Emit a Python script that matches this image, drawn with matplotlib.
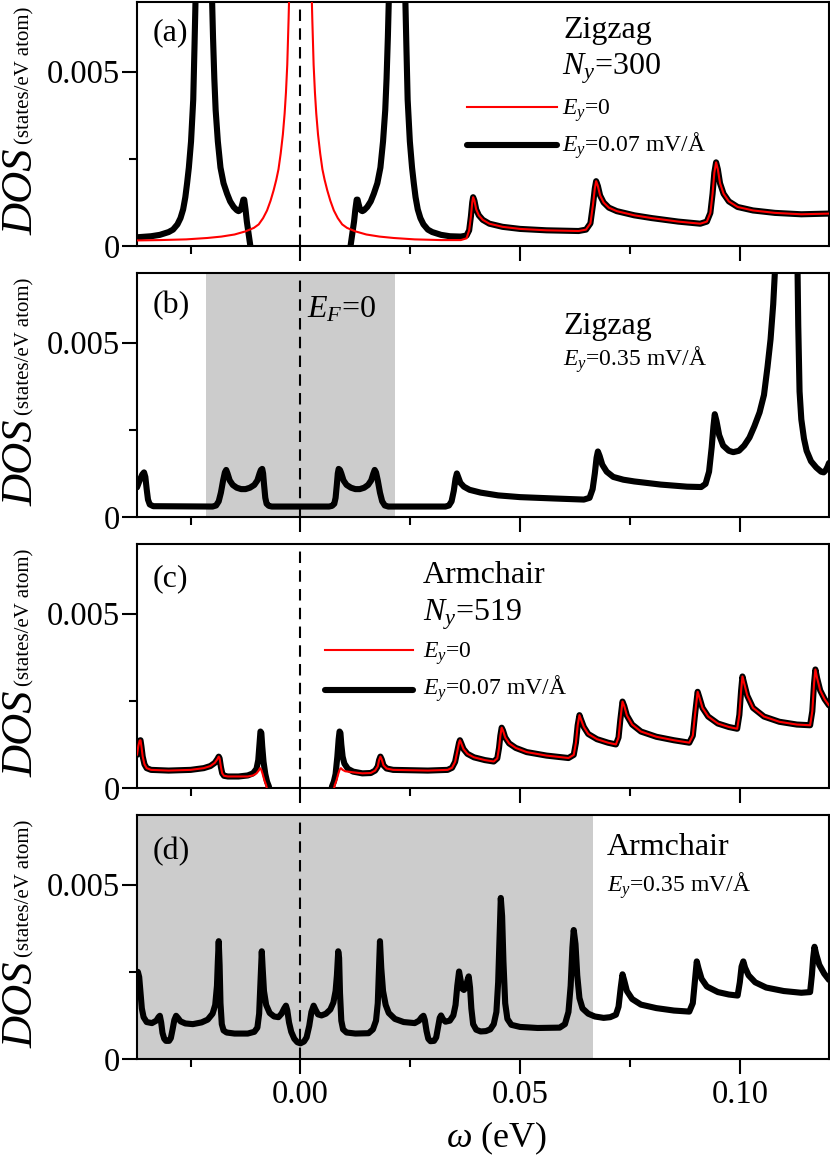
import numpy as np
import matplotlib
matplotlib.use("Agg")
import matplotlib.pyplot as plt
from matplotlib.ticker import FixedLocator, FuncFormatter

plt.rcParams['font.family'] = ['Liberation Serif', 'DejaVu Serif']
plt.rcParams['mathtext.fontset'] = 'custom'
plt.rcParams['mathtext.rm'] = 'Liberation Serif'
plt.rcParams['mathtext.it'] = 'Liberation Serif:italic'
plt.rcParams['mathtext.bf'] = 'Liberation Serif:bold'

nan = np.nan

# ---------------------------------------------------------------------------
# DOS values, omega in eV, DOS in 1e-3 states/eV atom
# ---------------------------------------------------------------------------
# (a) zigzag, Ny=300, Ey=0.07 (low-energy part)
a_black_x = [-0.0372, -0.0340, -0.0320, -0.0300, -0.0290, -0.0280, -0.0273, -0.0267, -0.0262,
             -0.0258, -0.0254, -0.0249, -0.0244, -0.0241, -0.0238, -0.0230, -0.0221, -0.0212,
             -0.0202, -0.0199, -0.0196, -0.0193, -0.0188, -0.0182, -0.0175, -0.0167, -0.0160,
             -0.0152, -0.0145, -0.0141, -0.0138, -0.0135, -0.0132, -0.0130, -0.0128, -0.0125,
             -0.0122, -0.0118, -0.0114, -0.0109, nan,
             0.0109, 0.0114, 0.0118, 0.0122, 0.0125, 0.0128, 0.0130, 0.0132, 0.0135, 0.0138,
             0.0141, 0.0145, 0.0152, 0.0160, 0.0167, 0.0175, 0.0182, 0.0188, 0.0193, 0.0196,
             0.0199, 0.0202, 0.0212, 0.0221, 0.0230, 0.0238, 0.0241, 0.0244, 0.0249, 0.0254,
             0.0258, 0.0262, 0.0267, 0.0273, 0.0280, 0.0290, 0.0300, 0.0320, 0.0340, 0.0365,
             0.0378]
a_black_y = [0.25, 0.28, 0.32, 0.40, 0.47, 0.62, 0.80, 1.05, 1.40,
             1.80, 2.25, 3.00, 4.20, 5.80, 7.50, 10.5, 11.5, 10.5,
             7.50, 6.00, 4.80, 3.90, 3.00, 2.25, 1.80, 1.50, 1.28,
             1.12, 1.03, 1.00, 1.02, 1.08, 1.22, 1.33, 1.33, 1.05,
             0.70, 0.35, 0.00, -0.40, nan,
             -0.40, 0.00, 0.35, 0.70, 1.05, 1.33, 1.33, 1.22, 1.08, 1.02,
             1.00, 1.03, 1.12, 1.28, 1.50, 1.80, 2.25, 3.00, 3.90, 4.80,
             6.00, 7.50, 10.5, 11.5, 10.5, 7.50, 5.80, 4.20, 3.00, 2.25,
             1.80, 1.40, 1.05, 0.80, 0.62, 0.47, 0.40, 0.32, 0.28, 0.27,
             0.30]
# (a) zigzag, Ny=300, Ey=0 (low-energy part)
a_red_x = [-0.0372, -0.0320, -0.0260, -0.0212, -0.0180, -0.0150, -0.0125, -0.0106, -0.0095,
           -0.0085, -0.0076, -0.0068, -0.0061, -0.0055, -0.0050, -0.0045, -0.0040, -0.0036,
           -0.0033, -0.0030, -0.0027, -0.0024, -0.0018, 0.0000, 0.0018, 0.0024, 0.0027,
           0.0030, 0.0033, 0.0036, 0.0040, 0.0045, 0.0050, 0.0055, 0.0061, 0.0068, 0.0076,
           0.0085, 0.0095, 0.0106, 0.0125, 0.0150, 0.0180, 0.0212, 0.0260, 0.0320, 0.0365,
           0.0378]
a_red_y = [0.16, 0.17, 0.19, 0.23, 0.27, 0.33, 0.42, 0.52, 0.62,
           0.80, 1.02, 1.30, 1.60, 1.90, 2.20, 2.65, 3.20, 3.80,
           4.40, 5.20, 6.50, 8.00, 12.0, 30.0, 12.0, 8.00, 6.50,
           5.20, 4.40, 3.80, 3.20, 2.65, 2.20, 1.90, 1.60, 1.30, 1.02,
           0.80, 0.62, 0.52, 0.42, 0.33, 0.27, 0.23, 0.19, 0.17, 0.17,
           0.22]
# (a) high-energy part, the same for both fields
a_tail_x = [0.0384, 0.0388, 0.0391, 0.0393, 0.0396, 0.0400, 0.0406, 0.0415, 0.0430, 0.0460,
            0.0500, 0.0560, 0.0633, 0.0650, 0.0660, 0.0666, 0.0670, 0.0673, 0.0677, 0.0682,
            0.0690, 0.0702, 0.0720, 0.0760, 0.0800, 0.0860, 0.0910, 0.0925, 0.0933, 0.0938,
            0.0942, 0.0946, 0.0950, 0.0955, 0.0963, 0.0975, 0.0995, 0.1030, 0.1080, 0.1140,
            0.1203]
a_tail_y = [0.45, 0.85, 1.25, 1.40, 1.30, 1.05, 0.88, 0.75, 0.64, 0.55,
            0.49, 0.45, 0.43, 0.47, 0.65, 1.20, 1.65, 1.86, 1.72, 1.45,
            1.25, 1.10, 1.00, 0.88, 0.80, 0.70, 0.64, 0.70, 0.95, 1.50,
            2.10, 2.40, 2.20, 1.80, 1.50, 1.28, 1.12, 1.02, 0.95, 0.91,
            0.93]

# (b) zigzag, Ey=0.35
b_x = [-0.0372, -0.0366, -0.0360, -0.0356, -0.0353, -0.0350, -0.0347, -0.0343, -0.0335,
       -0.0200, -0.0192, -0.0186, -0.0181, -0.0176, -0.0172, -0.0169, -0.0166, -0.0161,
       -0.0154, -0.0145, -0.0135, -0.0125, -0.0115, -0.0105, -0.0098, -0.0093, -0.0090,
       -0.0087, -0.0085, -0.0083, -0.0080, -0.0077, -0.0072, -0.0065,
       0.0065, 0.0072, 0.0077, 0.0080, 0.0083, 0.0085, 0.0087, 0.0090, 0.0093, 0.0098,
       0.0105, 0.0115, 0.0125, 0.0135, 0.0145, 0.0154, 0.0161, 0.0166, 0.0169, 0.0172,
       0.0176, 0.0181, 0.0186, 0.0192, 0.0200,
       0.0330, 0.0338, 0.0344, 0.0349, 0.0353, 0.0356, 0.0359, 0.0364, 0.0372, 0.0385,
       0.0410, 0.0450, 0.0500, 0.0580, 0.0645, 0.0658, 0.0665, 0.0670, 0.0674, 0.0677,
       0.0681, 0.0687, 0.0697, 0.0712, 0.0735, 0.0760, 0.0820, 0.0880, 0.0912, 0.0922,
       0.0930, 0.0936, 0.0940, 0.0943, 0.0947, 0.0953, 0.0962, 0.0975, 0.0985, 0.0998,
       0.1010, 0.1022, 0.1033, 0.1045, 0.1055, 0.1063, 0.1070, 0.1076, 0.1081, 0.1095,
       0.1107, 0.1120, 0.1131, 0.1133, 0.1136, 0.1140, 0.1146, 0.1152, 0.1162, 0.1174,
       0.1185, 0.1191, 0.1196, 0.1200, 0.1203]
b_y = [0.85, 1.05, 1.22, 1.28, 1.15, 0.80, 0.50, 0.36, 0.31,
       0.30, 0.33, 0.45, 0.70, 1.05, 1.28, 1.35, 1.25, 1.05,
       0.92, 0.84, 0.80, 0.80, 0.84, 0.92, 1.05, 1.25, 1.35,
       1.38, 1.25, 0.95, 0.55, 0.38, 0.32, 0.30,
       0.30, 0.32, 0.38, 0.55, 0.95, 1.25, 1.38, 1.35, 1.25, 1.05,
       0.92, 0.84, 0.80, 0.80, 0.84, 0.92, 1.05, 1.25, 1.35, 1.28,
       1.05, 0.70, 0.45, 0.33, 0.30,
       0.30, 0.33, 0.45, 0.75, 1.10, 1.25, 1.15, 0.98, 0.87, 0.78,
       0.70, 0.62, 0.57, 0.53, 0.50, 0.55, 0.80, 1.25, 1.70, 1.88,
       1.75, 1.50, 1.30, 1.15, 1.07, 1.02, 0.93, 0.87, 0.86, 0.95,
       1.30, 2.00, 2.60, 2.95, 2.75, 2.35, 2.05, 1.90, 1.86, 1.90,
       2.05, 2.28, 2.60, 3.00, 3.50, 4.30, 5.10, 6.10, 7.30, 10.5,
       11.5, 10.5, 7.50, 5.50, 3.60, 2.80, 2.25, 1.90, 1.60, 1.42,
       1.30, 1.28, 1.35, 1.45, 1.55]

# (c) armchair, Ny=519: low-energy parts differ between the two fields
c_black_x = [-0.0372, -0.0369, -0.0366, -0.0364, -0.0362, -0.0359, -0.0355, -0.0350, -0.0340,
             -0.0300, -0.0250, -0.0220, -0.0205, -0.0195, -0.0189, -0.0186, -0.0184, -0.0181,
             -0.0178, -0.0174, -0.0165, -0.0141, -0.0120, -0.0108, -0.0100, -0.0096, -0.0093,
             -0.0091, -0.0089, -0.0087, -0.0084, -0.0080, -0.0076, -0.0072, -0.0066, nan,
             0.0066, 0.0072, 0.0076, 0.0080, 0.0084, 0.0087, 0.0089, 0.0091, 0.0093, 0.0096,
             0.0100, 0.0108, 0.0120, 0.0141, 0.0160, 0.0170, 0.0176, 0.0179, 0.0182, 0.0185,
             0.0189, 0.0196]
c_black_y = [0.95, 1.20, 1.36, 1.37, 1.20, 0.90, 0.68, 0.57, 0.52,
             0.50, 0.52, 0.57, 0.63, 0.72, 0.83, 0.90, 0.85, 0.60,
             0.42, 0.35, 0.33, 0.33, 0.36, 0.42, 0.55, 0.80, 1.30,
             1.62, 1.58, 1.20, 0.75, 0.40, 0.18, 0.05, -0.30, nan,
             -0.30, 0.05, 0.18, 0.40, 0.90, 1.40, 1.62, 1.58, 1.25, 0.90,
             0.70, 0.55, 0.47, 0.42, 0.43, 0.50, 0.62, 0.80, 0.90, 0.82,
             0.65, 0.56]
c_red_x = [-0.0372, -0.0369, -0.0366, -0.0364, -0.0362, -0.0359, -0.0355, -0.0350, -0.0340,
           -0.0300, -0.0250, -0.0220, -0.0205, -0.0195, -0.0189, -0.0186, -0.0184, -0.0181,
           -0.0178, -0.0174, -0.0165, -0.0141, -0.0120, -0.0108, -0.0100, -0.0095, -0.0092,
           -0.0089, -0.0086, -0.0082, -0.0078, -0.0072, nan,
           0.0072, 0.0078, 0.0082, 0.0086, 0.0089, 0.0092, 0.0096, 0.0102, 0.0120, 0.0141,
           0.0160, 0.0170, 0.0176, 0.0179, 0.0182, 0.0185, 0.0189, 0.0196]
c_red_y = [0.95, 1.20, 1.36, 1.37, 1.20, 0.90, 0.68, 0.57, 0.52,
           0.50, 0.52, 0.57, 0.63, 0.72, 0.83, 0.90, 0.85, 0.60,
           0.42, 0.35, 0.33, 0.33, 0.33, 0.36, 0.42, 0.50, 0.57,
           0.52, 0.40, 0.22, 0.08, -0.30, nan,
           -0.30, 0.08, 0.22, 0.40, 0.52, 0.57, 0.52, 0.48, 0.45, 0.42,
           0.43, 0.50, 0.62, 0.80, 0.90, 0.82, 0.65, 0.56]
# (c) high-energy part, the same for both fields
c_tail_x = [0.0211, 0.0290, 0.0335, 0.0345, 0.0352, 0.0357, 0.0361, 0.0363, 0.0366, 0.0371,
            0.0380, 0.0395, 0.0420, 0.0440, 0.0448, 0.0452, 0.0455, 0.0458, 0.0461, 0.0466,
            0.0475, 0.0490, 0.0515, 0.0560, 0.0610, 0.0622, 0.0627, 0.0631, 0.0635, 0.0639,
            0.0645, 0.0655, 0.0675, 0.0700, 0.0718, 0.0724, 0.0728, 0.0733, 0.0737, 0.0743,
            0.0755, 0.0775, 0.0810, 0.0850, 0.0885, 0.0893, 0.0898, 0.0904, 0.0908, 0.0915,
            0.0928, 0.0950, 0.0975, 0.0994, 0.0999, 0.1003, 0.1006, 0.1010, 0.1017, 0.1030,
            0.1055, 0.1090, 0.1130, 0.1160, 0.1165, 0.1169, 0.1172, 0.1176, 0.1183, 0.1193,
            0.1203]
c_tail_y = [0.52, 0.50, 0.52, 0.58, 0.75, 1.05, 1.30, 1.37, 1.28, 1.12,
            0.98, 0.88, 0.80, 0.76, 0.85, 1.15, 1.50, 1.73, 1.65, 1.45,
            1.28, 1.15, 1.03, 0.93, 0.86, 0.95, 1.30, 1.80, 2.09, 1.95,
            1.75, 1.55, 1.40, 1.30, 1.25, 1.45, 1.95, 2.48, 2.35, 2.08,
            1.82, 1.62, 1.47, 1.37, 1.30, 1.50, 2.10, 2.76, 2.60, 2.30,
            2.05, 1.85, 1.75, 1.70, 2.10, 2.80, 3.20, 3.00, 2.65, 2.30,
            2.05, 1.90, 1.82, 1.80, 2.20, 3.00, 3.40, 3.15, 2.80, 2.55,
            2.37]

# (d) armchair, Ey=0.35
d_x = [-0.0372, -0.0370, -0.0367, -0.0364, -0.0361, -0.0357, -0.0350, -0.0338, -0.0328,
       -0.0323, -0.0320, -0.0317, -0.0314, -0.0310, -0.0306, -0.0299, -0.0295, -0.0291,
       -0.0287, -0.0283, -0.0279, -0.0273, -0.0262, -0.0245, -0.0225, -0.0211, -0.0200,
       -0.0194, -0.0190, -0.0188, -0.0186, -0.0184, -0.0182, -0.0179, -0.0175, -0.0168,
       -0.0150, -0.0120, -0.0105, -0.0098, -0.0094, -0.0091, -0.0088, -0.0086, -0.0083,
       -0.0078, -0.0070, -0.0060, -0.0050, -0.0043, -0.0037, -0.0033, -0.0030, -0.0026,
       -0.0021, -0.0014, -0.0007, 0.0000, 0.0008, 0.0014, 0.0020, 0.0025, 0.0030, 0.0034,
       0.0040, 0.0048, 0.0058, 0.0068, 0.0075, 0.0080, 0.0083, 0.0086, 0.0088, 0.0090,
       0.0093, 0.0097, 0.0105, 0.0125, 0.0155, 0.0165, 0.0172, 0.0176, 0.0179, 0.0181,
       0.0184, 0.0188, 0.0194, 0.0201, 0.0215, 0.0235, 0.0260, 0.0270, 0.0276, 0.0280,
       0.0283, 0.0287, 0.0291, 0.0296, 0.0304, 0.0309, 0.0313, 0.0317, 0.0320, 0.0324,
       0.0330, 0.0340, 0.0348, 0.0353, 0.0357, 0.0361, 0.0364, 0.0368, 0.0372, 0.0376,
       0.0380, 0.0383, 0.0386, 0.0389, 0.0393, 0.0400, 0.0410, 0.0422, 0.0432, 0.0440,
       0.0446, 0.0450, 0.0453, 0.0456, 0.0459, 0.0462, 0.0466, 0.0471, 0.0480, 0.0500,
       0.0540, 0.0590, 0.0602, 0.0610, 0.0615, 0.0619, 0.0622, 0.0626, 0.0630, 0.0635,
       0.0642, 0.0655, 0.0670, 0.0690, 0.0705, 0.0718, 0.0724, 0.0729, 0.0733, 0.0737,
       0.0743, 0.0755, 0.0775, 0.0810, 0.0850, 0.0885, 0.0893, 0.0898, 0.0902, 0.0906,
       0.0913, 0.0925, 0.0950, 0.0975, 0.0995, 0.1000, 0.1004, 0.1008, 0.1012, 0.1020,
       0.1035, 0.1060, 0.1100, 0.1140, 0.1160, 0.1164, 0.1167, 0.1170, 0.1174, 0.1181,
       0.1192, 0.1203]
d_y = [2.30, 2.50, 2.35, 1.90, 1.45, 1.20, 1.06, 1.03, 1.10,
       1.20, 1.24, 1.05, 0.75, 0.58, 0.52, 0.52, 0.60, 0.85,
       1.12, 1.24, 1.18, 1.08, 1.02, 1.00, 1.05, 1.13, 1.30,
       1.55, 2.10, 2.80, 3.38, 2.70, 1.60, 1.00, 0.82, 0.76,
       0.73, 0.73, 0.78, 0.90, 1.30, 2.20, 3.09, 2.60, 1.95,
       1.55, 1.32, 1.22, 1.20, 1.30, 1.45, 1.53, 1.40, 1.05,
       0.78, 0.58, 0.48, 0.45, 0.50, 0.62, 0.95, 1.35, 1.53, 1.42,
       1.28, 1.25, 1.30, 1.42, 1.62, 1.95, 2.40, 3.09, 2.90, 1.90,
       1.10, 0.85, 0.76, 0.73, 0.74, 0.85, 1.10, 1.60, 2.70, 3.38,
       2.60, 1.95, 1.55, 1.32, 1.15, 1.06, 1.03, 1.10, 1.20, 1.24,
       1.12, 0.80, 0.58, 0.51, 0.52, 0.62, 0.90, 1.18, 1.25, 1.15,
       1.07, 1.10, 1.25, 1.55, 2.10, 2.51, 2.30, 2.02, 1.98, 2.05,
       2.25, 2.37, 2.05, 1.45, 1.00, 0.84, 0.79, 0.80, 0.85, 1.00,
       1.35, 2.20, 3.40, 4.62, 4.10, 2.80, 1.60, 1.15, 0.98, 0.92,
       0.89, 0.90, 1.00, 1.35, 2.10, 3.20, 3.70, 3.30, 2.40, 1.75,
       1.45, 1.30, 1.22, 1.18, 1.20, 1.27, 1.50, 2.05, 2.43, 2.25,
       1.95, 1.72, 1.56, 1.46, 1.39, 1.36, 1.60, 2.25, 2.80, 2.60,
       2.30, 2.08, 1.92, 1.85, 1.82, 2.20, 2.65, 2.80, 2.62, 2.40,
       2.20, 2.05, 1.95, 1.90, 1.92, 2.40, 2.90, 3.22, 3.00, 2.70,
       2.45, 2.27]

# gray shaded windows (eV)
b_shade = (-0.0215, 0.0215)
d_shade = (-0.0372, 0.0665)

XMIN, XMAX = -0.0372, 0.1203
W, H = 830, 1159
SCALE = 1e-3

fig = plt.figure(figsize=(W / 100, H / 100), dpi=100)

panel_tops = [2, 273, 544, 815]
panel_h = 244
left_px, right_px = 137, 829


def axx(px):
    return (px - left_px) / (right_px - left_px)


def axy(rel):
    return 1 - rel / panel_h


def sc(vals):
    return np.array(vals) * SCALE


def make_axes(top):
    ax = fig.add_axes([left_px / W, 1 - (top + panel_h) / H,
                       (right_px - left_px) / W, panel_h / H])
    ax.set_xlim(XMIN, XMAX)
    ax.set_ylim(0, 0.007)
    ax.xaxis.set_major_locator(FixedLocator([0.0, 0.05, 0.10]))
    ax.xaxis.set_minor_locator(FixedLocator([-0.025, 0.025, 0.075]))
    ax.yaxis.set_major_locator(FixedLocator([0.0, 0.005]))
    ax.yaxis.set_minor_locator(FixedLocator([0.0025]))
    ax.yaxis.set_major_formatter(FuncFormatter(lambda v, p: '0' if v == 0 else f'{v:.3f}'))
    ax.tick_params(which='both', direction='out', width=1.5, top=False, right=False,
                   labelsize=23.5)
    ax.tick_params(which='major', length=11)
    ax.tick_params(which='minor', length=5.5)
    ax.tick_params(axis='y', pad=1.5)
    ax.tick_params(axis='x', pad=4)
    for s in ax.spines.values():
        s.set_linewidth(1.5)
    ax.axvline(0, color='black', lw=1.5, dashes=(5.5, 3.5), zorder=1.5)
    # y label: DOS followed by small unit text
    ax.text(axx(33), axy(190), 'DOS', fontsize=32, style='italic', rotation=90,
            rotation_mode='anchor', ha='center', va='baseline', transform=ax.transAxes)
    ax.text(axx(29), axy(73), '(states/eV atom)', fontsize=15, rotation=90,
            rotation_mode='anchor', ha='center', va='baseline', transform=ax.transAxes)
    return ax


axes = [make_axes(t) for t in panel_tops]
for ax in axes[:3]:
    ax.tick_params(axis='x', labelbottom=False)
axes[3].xaxis.set_major_formatter(FuncFormatter(lambda v, p: f'{v:.2f}'))

BLK_LW = 4.4
RED_LW = 1.5
line_kw = dict(solid_capstyle='round', solid_joinstyle='round')

# ---- (a)
ax = axes[0]
ax.plot(a_black_x + a_tail_x, sc(a_black_y + a_tail_y), color='black', lw=BLK_LW,
        zorder=3, **line_kw)
ax.plot(a_red_x + a_tail_x, sc(a_red_y + a_tail_y), color='#ff0000', lw=RED_LW, zorder=4,
        **line_kw)
ax.text(axx(153), axy(38), '(a)', fontsize=23, transform=ax.transAxes, va='baseline')
ax.text(axx(563), axy(36), 'Zigzag', fontsize=23, transform=ax.transAxes, va='baseline')
ax.text(axx(562), axy(73), r'$N_y$=300', fontsize=23, transform=ax.transAxes, va='baseline')
ax.plot([axx(467), axx(557)], [axy(105)] * 2, color='#ff0000', lw=RED_LW,
        transform=ax.transAxes)
ax.plot([axx(467), axx(557)], [axy(143)] * 2, color='black', lw=BLK_LW,
        solid_capstyle='round', transform=ax.transAxes)
ax.text(axx(562), axy(113), r'$E_y$=0', fontsize=17, transform=ax.transAxes, va='baseline')
ax.text(axx(562), axy(150), r'$E_y$=0.07 mV/Å', fontsize=17, transform=ax.transAxes,
        va='baseline')

# ---- (b)
ax = axes[1]
ax.axvspan(*b_shade, color='#cccccc', lw=0, zorder=0)
ax.plot(b_x, sc(b_y), color='black', lw=BLK_LW, zorder=3, **line_kw)
ax.text(axx(153), axy(40), '(b)', fontsize=23, transform=ax.transAxes, va='baseline')
ax.text(axx(307), axy(45), r'$E_F$=0', fontsize=23, transform=ax.transAxes, va='baseline')
ax.text(axx(563), axy(61), 'Zigzag', fontsize=23, transform=ax.transAxes, va='baseline')
ax.text(axx(563), axy(93), r'$E_y$=0.35 mV/Å', fontsize=17, transform=ax.transAxes,
        va='baseline')

# ---- (c)
ax = axes[2]
ax.plot(c_black_x + c_tail_x, sc(c_black_y + c_tail_y), color='black', lw=BLK_LW,
        zorder=3, **line_kw)
ax.plot(c_red_x + c_tail_x, sc(c_red_y + c_tail_y), color='#ff0000', lw=RED_LW, zorder=4,
        **line_kw)
ax.text(axx(153), axy(42), '(c)', fontsize=23, transform=ax.transAxes, va='baseline')
ax.text(axx(423), axy(39), 'Armchair', fontsize=23, transform=ax.transAxes, va='baseline')
ax.text(axx(423), axy(76), r'$N_y$=519', fontsize=23, transform=ax.transAxes, va='baseline')
ax.plot([axx(325), axx(413)], [axy(106)] * 2, color='#ff0000', lw=RED_LW,
        transform=ax.transAxes)
ax.plot([axx(325), axx(413)], [axy(146)] * 2, color='black', lw=BLK_LW,
        solid_capstyle='round', transform=ax.transAxes)
ax.text(axx(423), axy(114), r'$E_y$=0', fontsize=17, transform=ax.transAxes, va='baseline')
ax.text(axx(423), axy(151), r'$E_y$=0.07 mV/Å', fontsize=17, transform=ax.transAxes,
        va='baseline')

# ---- (d)
ax = axes[3]
ax.axvspan(*d_shade, color='#cccccc', lw=0, zorder=0)
ax.plot(d_x, sc(d_y), color='black', lw=BLK_LW, zorder=3, **line_kw)
ax.text(axx(153), axy(44), '(d)', fontsize=23, transform=ax.transAxes, va='baseline')
ax.text(axx(607), axy(40), 'Armchair', fontsize=23, transform=ax.transAxes, va='baseline')
ax.text(axx(607), axy(77), r'$E_y$=0.35 mV/Å', fontsize=17, transform=ax.transAxes,
        va='baseline')

fig.text(497 / W, 1 - 1147 / H, r'$\omega$ (eV)', fontsize=26, ha='center', va='baseline')

fig.savefig('out.png', dpi=100)
